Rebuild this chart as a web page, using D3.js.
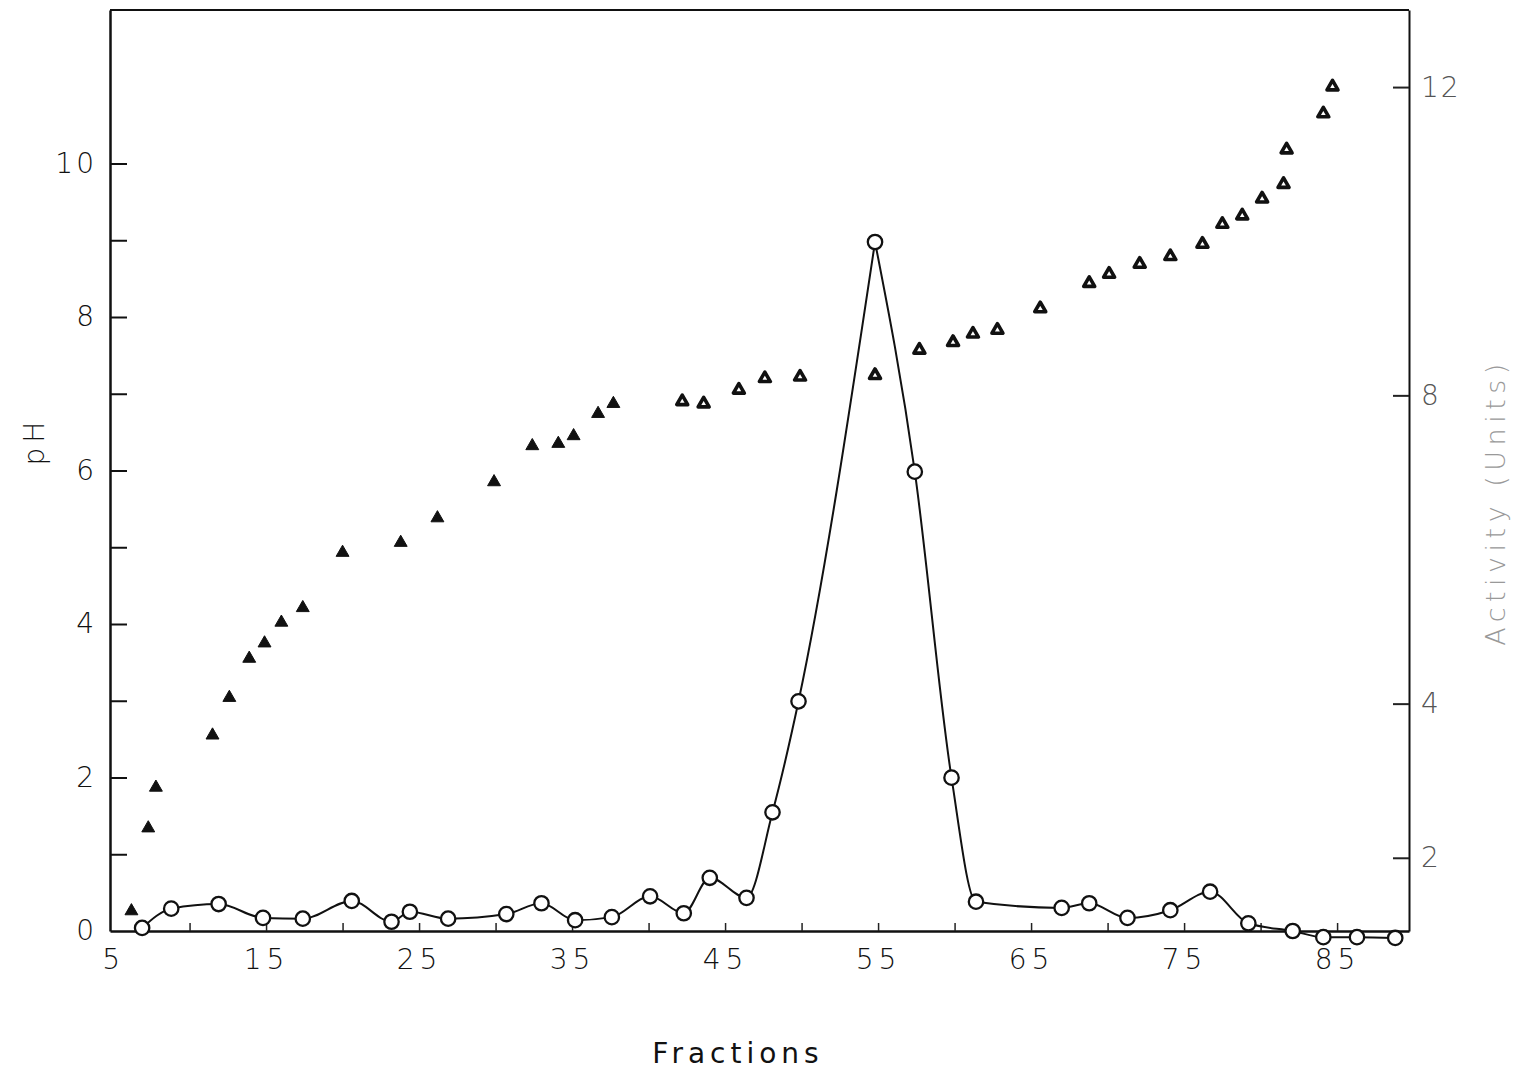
<!DOCTYPE html>
<html><head><meta charset="utf-8">
<script src="https://cdn.jsdelivr.net/npm/d3@7"></script>
<style>
html,body{margin:0;padding:0;background:#fff;}
svg{display:block;}
</style></head>
<body>
<svg id="c" width="1536" height="1076"></svg>
<script>
// ---- data ----
const phFractions = [6.2,7.3,7.8,11.5,12.6,13.9,14.9,16.0,17.4,20.0,23.8,26.2,29.9,32.4,34.1,35.1,36.7,37.7,42.2,43.6,45.9,47.6,49.9,54.8,57.7,59.9,61.2,62.8,65.6,68.8,70.1,72.1,74.1,76.2,77.5,78.8,80.1,81.5,81.7,84.1,84.7];
const phValues    = [0.26,1.34,1.87,2.55,3.04,3.55,3.75,4.02,4.21,4.93,5.06,5.38,5.85,6.32,6.35,6.45,6.74,6.87,6.90,6.87,7.05,7.20,7.22,7.24,7.57,7.67,7.78,7.83,8.11,8.44,8.56,8.69,8.79,8.95,9.21,9.32,9.54,9.73,10.18,10.65,11.0];
const actFractions = [6.9,8.8,11.9,14.8,17.4,20.6,23.2,24.4,26.9,30.7,33.0,35.2,37.6,40.1,42.3,44.0,46.4,48.1,49.8,54.8,57.4,59.8,61.4,67.0,68.8,71.3,74.1,76.7,79.2,82.1,84.1,86.3,88.8];
const actValues    = [1.09,1.34,1.40,1.22,1.21,1.44,1.17,1.30,1.21,1.27,1.41,1.19,1.23,1.50,1.28,1.74,1.48,2.59,4.03,9.99,7.01,3.04,1.43,1.35,1.41,1.22,1.32,1.56,1.15,1.05,0.97,0.97,0.96];
const xLabelTicks = [5,15,25,35,45,55,65,75,85];
const xMinorTicks = [10,15,20,25,30,35,40,45,50,55,60,65,70,75,80,85];
const phTicks = [1,2,3,4,5,6,7,8,9,10];
const phLabelTicks = [0,2,4,6,8,10];
const actTicks = [2,4,8,12];

const svg = d3.select("#c");
const L = 110, R = 1409, T = 10, B = 931;
const x = d3.scaleLinear().domain([4.8, 89.7]).range([L, R]);
const y = d3.scaleLinear().domain([0, 12]).range([B, T]);
const yR = d3.scaleLinear().domain([1.05, 13]).range([B, T]);

const FONT = "'DejaVu Sans', 'Liberation Sans', sans-serif";

// top frame line
svg.append("line").attr("x1", L).attr("x2", R).attr("y1", T).attr("y2", T)
  .attr("stroke", "#111").attr("stroke-width", 2);

// left axis: ticks (inward)
const gl = svg.append("g").attr("transform", `translate(${L},0)`)
  .call(d3.axisLeft(y).tickValues(phTicks).tickSize(-17).tickSizeOuter(0).tickFormat(""));
gl.select(".domain").attr("stroke", "#111").attr("stroke-width", 2.5);
gl.selectAll(".tick line").attr("stroke", "#111").attr("stroke-width", 2);
// left axis labels
const gll = svg.append("g").attr("transform", `translate(${L},0)`)
  .call(d3.axisLeft(y).tickValues(phLabelTicks).tickSize(0).tickPadding(13));
gll.select(".domain").remove();
gll.selectAll("text").attr("font-family", FONT).attr("font-size", 28).attr("font-weight", 200)
  .attr("letter-spacing", 3).attr("fill", "#111");

// bottom axis: minor ticks inward
const gb = svg.append("g").attr("transform", `translate(0,${B})`)
  .call(d3.axisBottom(x).tickValues(xMinorTicks).tickSize(-8).tickSizeOuter(0).tickFormat(""));
gb.select(".domain").attr("stroke", "#111").attr("stroke-width", 2.5);
gb.selectAll(".tick line").attr("stroke", "#222").attr("stroke-width", 1.5);
const gbl = svg.append("g").attr("transform", `translate(0,${B})`)
  .call(d3.axisBottom(x).tickValues(xLabelTicks).tickSize(0).tickPadding(38));
gbl.select(".domain").remove();
gbl.selectAll("text").attr("font-family", FONT).attr("font-size", 28).attr("font-weight", 200)
  .attr("letter-spacing", 5).attr("fill", "#111").attr("dy", "0");

// right axis
const gr = svg.append("g").attr("transform", `translate(${R},0)`)
  .call(d3.axisRight(yR).tickValues(actTicks).tickSize(-16).tickSizeOuter(0).tickPadding(12));
gr.select(".domain").attr("stroke", "#111").attr("stroke-width", 2);
gr.selectAll(".tick line").attr("stroke", "#222").attr("stroke-width", 2);
gr.selectAll("text").attr("font-family", FONT).attr("font-size", 28).attr("font-weight", 200)
  .attr("letter-spacing", 2).attr("fill", "#555");

// axis titles
svg.append("text").attr("transform", "translate(44,441) rotate(-90)")
  .attr("text-anchor", "middle").attr("font-family", FONT).attr("font-size", 28)
  .attr("font-weight", 200).attr("letter-spacing", 5).attr("fill", "#111").text("pH");
svg.append("text").attr("transform", "translate(1505,502) rotate(-90)")
  .attr("text-anchor", "middle").attr("font-family", FONT).attr("font-size", 27)
  .attr("font-weight", 200).attr("letter-spacing", 5.5).attr("fill", "#999").text("Activity (Units)");
svg.append("text").attr("x", 738).attr("y", 1063)
  .attr("text-anchor", "middle").attr("font-family", FONT).attr("font-size", 28)
  .attr("letter-spacing", 5).attr("fill", "#111").text("Fractions");

// activity line: smooth, but sharp at the peak (split into two runs)
const actData = actFractions.map((f, i) => ({f, v: actValues[i]}));
const peak = d3.maxIndex(actValues);
const line = d3.line().x(d => x(d.f)).y(d => yR(d.v)).curve(d3.curveMonotoneX);
[actData.slice(0, peak + 1), actData.slice(peak)].forEach(seg => {
  svg.append("path").datum(seg).attr("d", line)
    .attr("fill", "none").attr("stroke", "#111").attr("stroke-width", 2);
});
svg.append("g").selectAll("circle").data(actData).join("circle")
  .attr("cx", d => x(d.f)).attr("cy", d => yR(d.v)).attr("r", 7.2)
  .attr("fill", "#fff").attr("stroke", "#111").attr("stroke-width", 2.3);

// pH triangles
const phData = phFractions.map((f, i) => ({f, v: phValues[i]}));
const triFilled = d3.symbol().type(d3.symbolTriangle).size(72);
const triOpen = d3.symbol().type(d3.symbolTriangle).size(52);
svg.append("g").selectAll("path").data(phData).join("path")
  .attr("d", d => d.f > 40 ? triOpen() : triFilled())
  .attr("transform", d => `translate(${x(d.f)},${y(d.v)})`)
  .attr("fill", d => d.f > 40 ? "#fff" : "#111")
  .attr("stroke", "#111")
  .attr("stroke-width", d => d.f > 40 ? 3.6 : 1)
  .attr("stroke-linejoin", "round");
</script>
</body></html>
